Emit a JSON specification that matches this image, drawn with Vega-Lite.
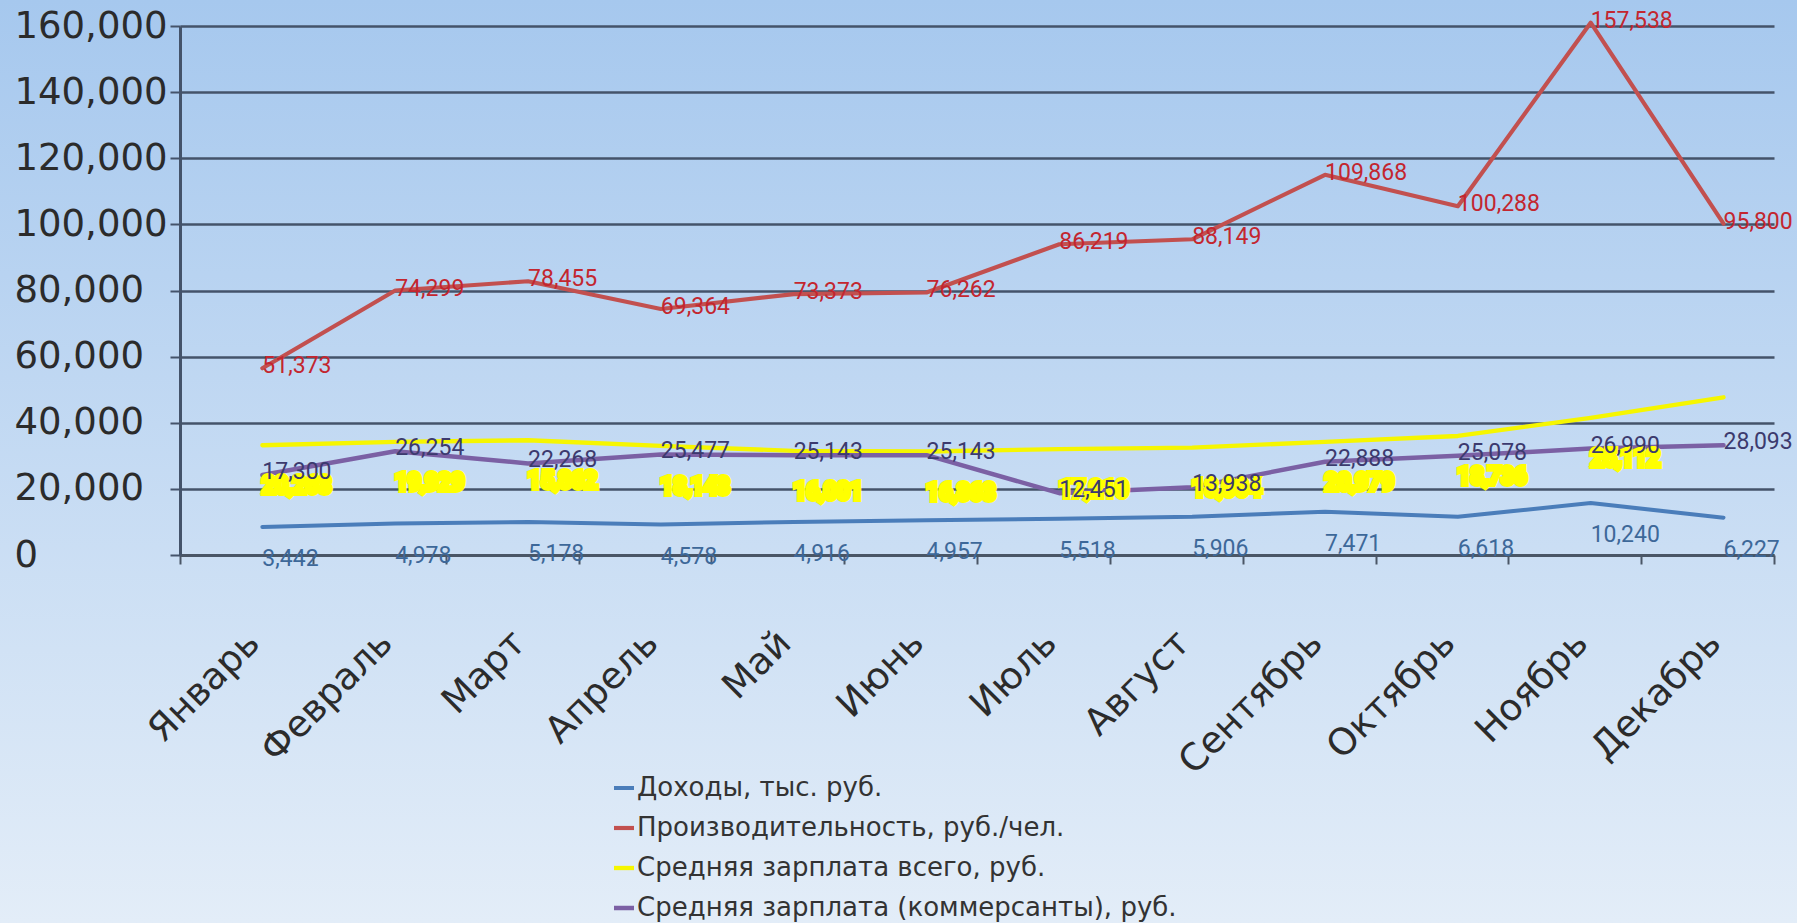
{
  "$schema": "https://vega.github.io/schema/vega-lite/v6.json",
  "width": 1797,
  "height": 923,
  "autosize": {"type": "none"},
  "padding": 0,
  "background": "#c9dcf2",
  "config": {
    "view": {"stroke": null, "fill": {"gradient": "linear", "x1": 0, "y1": 0, "x2": 0, "y2": 1, "stops": [{"offset": 0, "color": "#a6c8ee"}, {"offset": 1, "color": "#e3edf8"}]}},
    "font": "DejaVu Sans"
  },
  "data": {"values": [
    {"month": "Январь", "series": "Доходы, тыс. руб.", "value": 8500, "label": 3442},
    {"month": "Февраль", "series": "Доходы, тыс. руб.", "value": 9500, "label": 4978},
    {"month": "Март", "series": "Доходы, тыс. руб.", "value": 10000, "label": 5178},
    {"month": "Апрель", "series": "Доходы, тыс. руб.", "value": 9200, "label": 4578},
    {"month": "Май", "series": "Доходы, тыс. руб.", "value": 10000, "label": 4916},
    {"month": "Июнь", "series": "Доходы, тыс. руб.", "value": 10500, "label": 4957},
    {"month": "Июль", "series": "Доходы, тыс. руб.", "value": 11000, "label": 5518},
    {"month": "Август", "series": "Доходы, тыс. руб.", "value": 11600, "label": 5906},
    {"month": "Сентябрь", "series": "Доходы, тыс. руб.", "value": 13100, "label": 7471},
    {"month": "Октябрь", "series": "Доходы, тыс. руб.", "value": 11600, "label": 6618},
    {"month": "Ноябрь", "series": "Доходы, тыс. руб.", "value": 15700, "label": 10240},
    {"month": "Декабрь", "series": "Доходы, тыс. руб.", "value": 11300, "label": 6227},
    {"month": "Январь", "series": "Производительность, руб./чел.", "value": 56500, "label": 51373},
    {"month": "Февраль", "series": "Производительность, руб./чел.", "value": 80000, "label": 74299},
    {"month": "Март", "series": "Производительность, руб./чел.", "value": 82800, "label": 78455},
    {"month": "Апрель", "series": "Производительность, руб./чел.", "value": 74400, "label": 69364},
    {"month": "Май", "series": "Производительность, руб./чел.", "value": 78900, "label": 73373},
    {"month": "Июнь", "series": "Производительность, руб./чел.", "value": 79400, "label": 76262},
    {"month": "Июль", "series": "Производительность, руб./чел.", "value": 94000, "label": 86219},
    {"month": "Август", "series": "Производительность, руб./чел.", "value": 95500, "label": 88149},
    {"month": "Сентябрь", "series": "Производительность, руб./чел.", "value": 115000, "label": 109868},
    {"month": "Октябрь", "series": "Производительность, руб./чел.", "value": 105500, "label": 100288},
    {"month": "Ноябрь", "series": "Производительность, руб./чел.", "value": 161000, "label": 157538},
    {"month": "Декабрь", "series": "Производительность, руб./чел.", "value": 100200, "label": 95800},
    {"month": "Январь", "series": "Средняя зарплата всего, руб.", "value": 33200, "label": 20263},
    {"month": "Февраль", "series": "Средняя зарплата всего, руб.", "value": 34200, "label": 19929},
    {"month": "Март", "series": "Средняя зарплата всего, руб.", "value": 34700, "label": 15862},
    {"month": "Апрель", "series": "Средняя зарплата всего, руб.", "value": 33000, "label": 18143},
    {"month": "Май", "series": "Средняя зарплата всего, руб.", "value": 31500, "label": 16001},
    {"month": "Июнь", "series": "Средняя зарплата всего, руб.", "value": 31300, "label": 16863},
    {"month": "Июль", "series": "Средняя зарплата всего, руб.", "value": 32000, "label": 17210},
    {"month": "Август", "series": "Средняя зарплата всего, руб.", "value": 32500, "label": 18004},
    {"month": "Сентябрь", "series": "Средняя зарплата всего, руб.", "value": 34200, "label": 20979},
    {"month": "Октябрь", "series": "Средняя зарплата всего, руб.", "value": 36000, "label": 18736},
    {"month": "Ноябрь", "series": "Средняя зарплата всего, руб.", "value": 41500, "label": 25112},
    {"month": "Декабрь", "series": "Средняя зарплата всего, руб.", "value": 47700, "label": null},
    {"month": "Январь", "series": "Средняя зарплата (коммерсанты), руб.", "value": 24200, "label": 17300},
    {"month": "Февраль", "series": "Средняя зарплата (коммерсанты), руб.", "value": 31400, "label": 26254},
    {"month": "Март", "series": "Средняя зарплата (коммерсанты), руб.", "value": 27700, "label": 22268},
    {"month": "Апрель", "series": "Средняя зарплата (коммерсанты), руб.", "value": 30400, "label": 25477},
    {"month": "Май", "series": "Средняя зарплата (коммерсанты), руб.", "value": 30200, "label": 25143},
    {"month": "Июнь", "series": "Средняя зарплата (коммерсанты), руб.", "value": 30200, "label": 25143},
    {"month": "Июль", "series": "Средняя зарплата (коммерсанты), руб.", "value": 18700, "label": 12451},
    {"month": "Август", "series": "Средняя зарплата (коммерсанты), руб.", "value": 20500, "label": 13938},
    {"month": "Сентябрь", "series": "Средняя зарплата (коммерсанты), руб.", "value": 28200, "label": 22888},
    {"month": "Октябрь", "series": "Средняя зарплата (коммерсанты), руб.", "value": 30000, "label": 25078},
    {"month": "Ноябрь", "series": "Средняя зарплата (коммерсанты), руб.", "value": 32200, "label": 26990},
    {"month": "Декабрь", "series": "Средняя зарплата (коммерсанты), руб.", "value": 33200, "label": 28093}
  ]},
  "encoding": {
    "x": {
      "field": "month", "type": "ordinal",
      "sort": ["Январь", "Февраль", "Март", "Апрель", "Май", "Июнь", "Июль", "Август", "Сентябрь", "Октябрь", "Ноябрь", "Декабрь"],
      "bandPosition": 0.62,
      "scale": {"range": [180, 1774], "paddingInner": 0, "paddingOuter": 0},
      "axis": {
        "title": null, "orient": "bottom", "offset": -368, "tickBand": "extent",
        "labelAngle": -45, "labelAlign": "right", "labelBaseline": "middle",
        "labelFont": "DejaVu Sans", "labelFontSize": 37, "labelColor": "#2b2b2b",
        "labelPadding": 73, "labelOffset": 7, "labelOverlap": false, "labelLimit": 400,
        "tickSize": 9, "tickWidth": 2, "tickColor": "#4a5666",
        "domainColor": "#4a5666", "domainWidth": 3, "grid": false
      }
    },
    "y": {
      "field": "value", "type": "quantitative",
      "scale": {"domain": [0, 160000], "range": [555, 26], "nice": false},
      "axis": {
        "title": null, "orient": "left", "offset": -180,
        "values": [0, 20000, 40000, 60000, 80000, 100000, 120000, 140000, 160000],
        "format": ",d", "labelFont": "DejaVu Sans", "labelFontSize": 37, "labelColor": "#2b2b2b",
        "labelAlign": "left", "labelBaseline": "middle", "labelPadding": 156, "labelFlush": false, "labelOverlap": false,
        "tickSize": 10, "tickWidth": 2, "tickColor": "#44536a",
        "grid": true, "gridColor": "#44536a", "gridWidth": 2.5,
        "domainColor": "#44536a", "domainWidth": 3
      }
    }
  },
  "layer": [
    {
      "mark": {"type": "line", "strokeCap": "round", "strokeJoin": "round"},
      "encoding": {
        "stroke": {
          "field": "series", "type": "nominal",
          "scale": {"domain": ["Доходы, тыс. руб.", "Производительность, руб./чел.", "Средняя зарплата всего, руб.", "Средняя зарплата (коммерсанты), руб."], "range": ["#4a7dba", "#c2504f", "#f6f600", "#7b60a4"]},
          "legend": {
            "orient": "none", "legendX": 611, "legendY": 775, "title": null, "direction": "vertical",
            "symbolType": "stroke", "symbolSize": 400, "symbolStrokeWidth": 4,
            "labelFont": "DejaVu Sans", "labelFontSize": 26, "labelColor": "#333333", "labelLimit": 800,
            "rowPadding": 14, "labelOffset": 0, "padding": 0
          }
        },
        "strokeWidth": {
          "field": "series", "type": "nominal",
          "scale": {"domain": ["Доходы, тыс. руб.", "Производительность, руб./чел.", "Средняя зарплата всего, руб.", "Средняя зарплата (коммерсанты), руб."], "range": [4, 4.5, 7, 4]},
          "legend": null
        }
      }
    },
    {
      "transform": [{"filter": "datum.series === 'Средняя зарплата всего, руб.' && datum.label != null"}],
      "mark": {"type": "text", "align": "left", "baseline": "middle", "dy": 41, "font": "Roboto", "fontSize": 23, "fill": "#e8e800", "stroke": "#ffff00", "strokeWidth": 6},
      "encoding": {"text": {"field": "label", "type": "quantitative", "format": ",d"}}
    },
    {
      "transform": [{"filter": "datum.series === 'Доходы, тыс. руб.'"}],
      "mark": {"type": "text", "align": "left", "baseline": "middle", "dy": 32, "font": "Roboto", "fontSize": 23, "fill": "#3d6899"},
      "encoding": {"text": {"field": "label", "type": "quantitative", "format": ",d"}}
    },
    {
      "transform": [{"filter": "datum.series === 'Производительность, руб./чел.'"}],
      "mark": {"type": "text", "align": "left", "baseline": "middle", "dy": -2, "font": "Roboto", "fontSize": 23, "fill": "#c3262f"},
      "encoding": {"text": {"field": "label", "type": "quantitative", "format": ",d"}}
    },
    {
      "transform": [{"filter": "datum.series === 'Средняя зарплата (коммерсанты), руб.'"}],
      "mark": {"type": "text", "align": "left", "baseline": "middle", "dy": -3, "font": "Roboto", "fontSize": 23, "fill": "#3c3a6e"},
      "encoding": {"text": {"field": "label", "type": "quantitative", "format": ",d"}}
    }
  ]
}
